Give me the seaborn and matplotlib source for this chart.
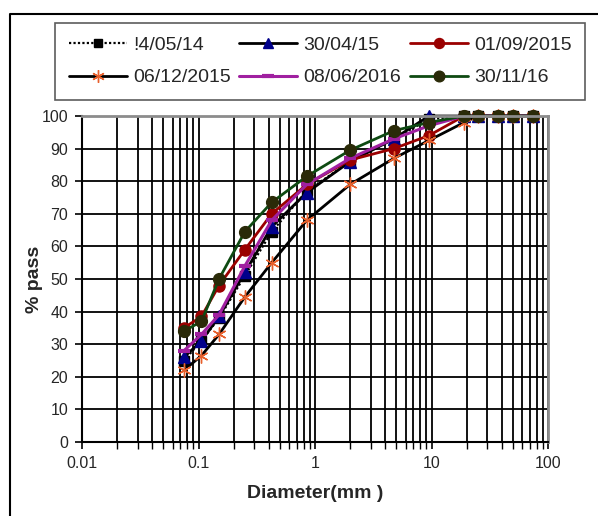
import matplotlib
matplotlib.use("Agg")
import matplotlib.pyplot as plt
from matplotlib.lines import Line2D
from matplotlib.ticker import LogLocator, FixedLocator, NullFormatter, FuncFormatter
import seaborn as sns
import pandas as pd

# Sieve sizes (mm) and percent passing for each sampling date
sieve_mm = [0.075, 0.106, 0.15, 0.25, 0.425, 0.85, 2, 4.75, 9.5, 19, 25, 37.5, 50, 75]

labels = ["!4/05/14", "30/04/15", "01/09/2015", "06/12/2015", "08/06/2016", "30/11/16"]

pass_140514 = [25, 31, 38, 51, 64.5, 77, 86, 93, 99, 100, 100, 100, 100, 100]
pass_300415 = [26, 31, 38.5, 52, 66, 76.5, 86, 93, 100, 100, 100, 100, 100, 100]
pass_010915 = [35, 38.5, 48, 59, 70, 79, 86.5, 90, 94, 100, 100, 100, 100, 100]
pass_061215 = [22, 26.5, 33, 44.5, 55, 68, 79, 87, 92.5, 98, 100, 100, 100, 100]
pass_080616 = [28, 33, 39, 54, 68, 79, 87, 93, 97, 100, 100, 100, 100, 100]
pass_301116 = [34, 37, 50, 64.5, 73.5, 81.5, 89.5, 95.5, 98, 100, 100, 100, 100, 100]

series = [pass_140514, pass_300415, pass_010915, pass_061215, pass_080616, pass_301116]

styles = [
    dict(color="black", lw=1.6, ls=(0, (1, 1)), marker="s", ms=7,
         mfc="black", mec="black"),
    dict(color="black", lw=2.0, ls="-", marker="^", ms=8,
         mfc="#00008B", mec="#00008B"),
    dict(color="#9A0000", lw=2.0, ls="-", marker="o", ms=8,
         mfc="#9A0000", mec="#9A0000"),
    dict(color="black", lw=2.0, ls="-", marker=(6, 2, 0), ms=10,
         mfc="#E8602C", mec="#E8602C", mew=1.0),
    dict(color="#A020A0", lw=2.2, ls="-", marker="_", ms=9,
         mfc="#A020A0", mec="#A020A0", mew=3),
    dict(color="#0E4A12", lw=2.0, ls="-", marker="o", ms=8.5,
         mfc="#2A2A08", mec="#2A2A08"),
]

sns.set_style("white")
plt.rcParams["font.family"] = ["Liberation Sans", "DejaVu Sans"]

fig = plt.figure(figsize=(5.98, 5.16), dpi=100)
ax = fig.add_axes([82 / 598, 1 - 442 / 516, (548 - 82) / 598, (442 - 116) / 516])

handles = []
for lab, vals, st in zip(labels, series, styles):
    df = pd.DataFrame({"Diameter": sieve_mm, "Pass": vals})
    sns.lineplot(data=df, x="Diameter", y="Pass", ax=ax, sort=False,
                 color=st["color"], linewidth=st["lw"], linestyle=st["ls"],
                 marker=st["marker"], markersize=st["ms"],
                 markerfacecolor=st["mfc"], markeredgecolor=st["mec"],
                 markeredgewidth=st.get("mew", 1.0), clip_on=False)
    handles.append(Line2D([], [], color=st["color"], lw=st["lw"], ls=st["ls"],
                          marker=st["marker"], ms=st["ms"] * 0.9,
                          mfc=st["mfc"], mec=st["mec"],
                          mew=st.get("mew", 1.0)))

ax.set_xscale("log")
ax.set_xlim(0.01, 100)
ax.set_ylim(0, 100)

ax.xaxis.set_major_locator(LogLocator(base=10))
ax.xaxis.set_minor_locator(LogLocator(base=10, subs=range(2, 10)))
ax.xaxis.set_minor_formatter(NullFormatter())
ax.xaxis.set_major_formatter(FuncFormatter(lambda v, p: f"{v:g}"))
ax.yaxis.set_major_locator(FixedLocator(range(0, 101, 10)))

ax.grid(True, which="both", axis="x", color="black", lw=1.3)
ax.grid(True, which="major", axis="y", color="black", lw=1.3)
ax.set_axisbelow(True)

for side in ["top", "right"]:
    ax.spines[side].set_color("#8C8C8C")
    ax.spines[side].set_linewidth(2)
for side in ["left", "bottom"]:
    ax.spines[side].set_color("black")
    ax.spines[side].set_linewidth(1.5)

ax.tick_params(axis="both", which="major", direction="out", length=5,
               width=1.2, color="black", labelsize=11.5, pad=5)
ax.tick_params(axis="x", which="minor", direction="out", length=5,
               width=1.0, color="black", bottom=True)
ax.tick_params(axis="x", which="both", bottom=True)
ax.tick_params(axis="y", left=True)

ax.set_xlabel("Diameter(mm )", fontsize=14, fontweight="bold", labelpad=10)
ax.set_ylabel("% pass", fontsize=14, fontweight="bold", labelpad=-1)

# legend laid out row by row across three columns
order = [0, 3, 1, 4, 2, 5]
leg = fig.legend([handles[i] for i in order], [labels[i] for i in order],
                 loc="center", ncol=3, mode="expand",
                 bbox_to_anchor=(55 / 598, 1 - 100 / 516, 530 / 598, 77 / 516),
                 frameon=True, fancybox=False, edgecolor="#333333",
                 fontsize=14, handlelength=3.0, handletextpad=0.3,
                 columnspacing=0.8, borderaxespad=0.0, labelspacing=0.75,
                 borderpad=0.7)
leg.get_frame().set_linewidth(1.2)

# outer chart frame
fig.add_artist(Line2D([10 / 598, 10 / 598, 1.0], [0.0, 1 - 14 / 516, 1 - 14 / 516],
                      transform=fig.transFigure, color="black", lw=1.5))

fig.savefig("out.png", dpi=100)
